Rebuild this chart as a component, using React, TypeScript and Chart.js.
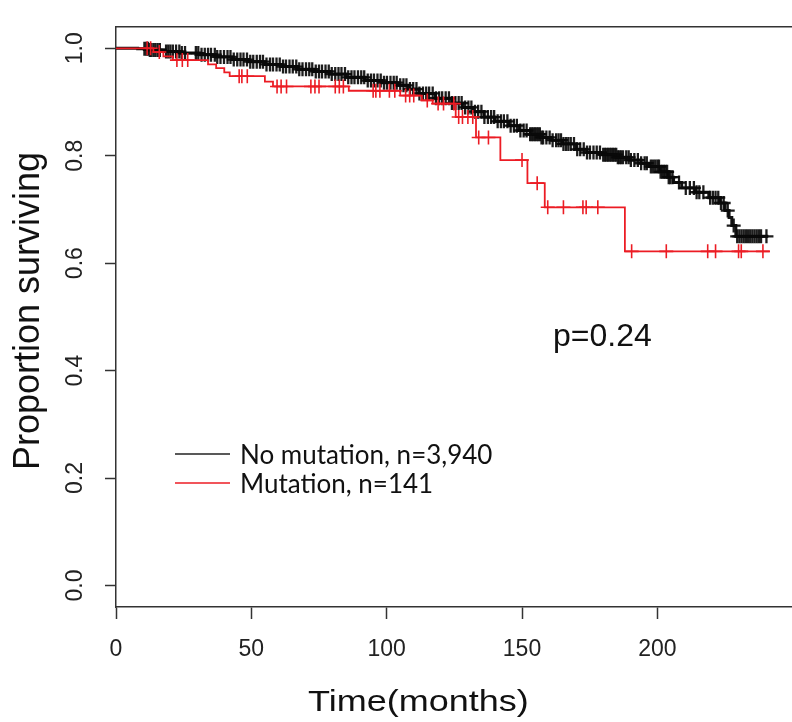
import React, { useEffect, useRef } from "react";
import { Chart, registerables } from "chart.js";

Chart.register(...registerables);

// ---- axis ticks ----
const xTicks = [0, 50, 100, 150, 200];
const yTicks = [0.0, 0.2, 0.4, 0.6, 0.8, 1.0];

// ---- texts ----
const xTitle = "Time(months)";
const yTitle = "Proportion surviving";
const pText = "p=0.24";
const seriesNames = ["No mutation, n=3,940", "Mutation, n=141"];

// ---- No mutation (black) Kaplan-Meier steps ----
const noMutTimes = [0, 8, 12, 18, 24, 31, 37, 43, 49, 55, 61, 67, 73, 79, 85, 92, 98, 104, 108, 112, 118, 124, 128, 132, 136, 140, 145, 149, 153, 157, 161, 165, 170, 174, 179, 185, 190, 194, 197, 201, 204, 206, 209, 214, 219, 223, 225, 226.5, 227.5, 229];
const noMutSurv = [1.0, 0.999, 0.997, 0.994, 0.991, 0.988, 0.984, 0.979, 0.975, 0.970, 0.966, 0.961, 0.957, 0.952, 0.946, 0.940, 0.936, 0.931, 0.924, 0.916, 0.907, 0.898, 0.890, 0.882, 0.872, 0.864, 0.856, 0.847, 0.840, 0.834, 0.829, 0.822, 0.812, 0.806, 0.802, 0.797, 0.792, 0.786, 0.780, 0.770, 0.760, 0.750, 0.740, 0.732, 0.722, 0.712, 0.698, 0.685, 0.670, 0.650];
const noMutEnd = 241;
const noMutCensor = [
  10.5, 11.2, 11.8, 12.5, 13.1, 13.9, 14.6, 15.4, 16.2,
  18.5, 19.3, 20.1, 21, 22.2, 23.4, 24.3, 25.5,
  29.5, 30.4, 31.6, 32.8, 34, 35.1, 36.5, 37.4, 38.6, 39.9, 41.2, 42.3,
  43.5, 44.8, 46, 47.1, 48.4, 49.6, 50.7, 52, 53.2, 54.3, 55.6, 56.9, 58, 59.3, 60.5, 61.7, 62.8, 64.1, 65.3, 66.6, 67.7, 68.9, 70.2, 71.4, 72.5, 73.8, 75, 76.1, 77.4, 78.6, 79.7, 81, 82.2, 83.3, 84.6, 85.8, 87, 88.1, 89.4, 90.6, 91.7, 93, 94.2, 95.3, 96.6, 97.8, 99, 100.1, 101.4, 102.6, 103.7,
  105, 106.2, 107.3, 108.6, 109.8, 111, 112.1, 113.4, 114.6, 115.7, 117, 118.2, 119.4, 120.5, 121.8, 123, 124.1, 125.4, 126.6, 127.7, 129, 130.2, 131.3, 132.6, 133.8, 135, 136.1, 137.4, 138.6, 139.7, 141, 142.2, 143.3, 144.6, 145.8, 147, 148.1, 149.4, 150.6, 151.7,
  153, 153.6, 154.2, 154.8, 155.4, 156, 156.6, 157.2, 157.8, 159, 160.2, 161.3, 162.6, 163.5, 164.4, 165.3, 166.2, 167.1, 168, 169.2, 170.4, 171.5, 172.8, 174, 175.1, 176.4, 177.6, 178.8,
  180, 180.6, 181.2, 181.8, 182.4, 183, 183.6, 184.2, 184.8, 185.4, 186, 186.6, 187.3, 188.5, 189.4, 190.2, 191.5, 192.8, 194, 195.3, 196.1, 197.6, 198.4, 199.2, 200, 200.6, 201.2, 201.8, 202.4, 203, 203.6, 204.2, 204.8, 205.6,
  208, 210.5, 212, 213.5, 214.5, 215.5, 217, 219.5, 220.5, 221.5, 222.5, 223.5, 224.5, 226,
  228.2, 229.5, 230.3, 231.1, 231.9, 232.7, 233.5, 234.3, 235.1, 235.9, 236.7, 237.5, 238.3, 240.3,
];

// ---- Mutation (red) Kaplan-Meier steps ----
const mutTimes = [0, 13.8, 17.5, 21, 34, 37, 40, 42, 55, 58, 86, 105, 113, 117, 125.5, 133, 142, 152, 158.4, 188];
const mutSurv = [1.0, 0.993, 0.985, 0.978, 0.970, 0.963, 0.955, 0.948, 0.938, 0.929, 0.921, 0.912, 0.903, 0.897, 0.872, 0.834, 0.792, 0.749, 0.704, 0.622];
const mutEnd = 241.5;
const mutCensor = [11.5, 12.8, 16, 22.5, 24.5, 26.5, 45.5, 46.5, 48.5, 59.5, 61, 63, 72, 73.5, 75, 81, 82.5, 84, 95, 96, 97.5, 101, 103, 107, 108.5, 110, 115, 119, 121, 124.8, 126.6, 128, 130, 131.8, 134, 137.6, 150, 155.6, 159.5, 165.3, 172.5, 173.7, 178, 190.5, 203.3, 218.6, 221.5, 230, 231, 239];

const BLACK = "#111111";
const RED = "#ec1c24";
const AXIS = "#333333";

function stepPoints(times: number[], surv: number[], end: number) {
  const pts = times.map((t, i) => ({ x: t, y: surv[i] }));
  pts.push({ x: end, y: surv[surv.length - 1] });
  return pts;
}

function survAt(times: number[], surv: number[], t: number) {
  let s = surv[0];
  for (let i = 0; i < times.length; i++) {
    if (times[i] <= t) s = surv[i];
    else break;
  }
  return s;
}

function censorPoints(times: number[], surv: number[], censor: number[]) {
  return censor.map((t) => ({ x: t, y: survAt(times, surv, t) }));
}

const overlayPlugin = {
  id: "overlay",
  afterDraw(chart: any) {
    const { ctx, chartArea: a } = chart;
    ctx.save();
    // top border of the box
    ctx.strokeStyle = AXIS;
    ctx.lineWidth = 1.5;
    ctx.beginPath();
    ctx.moveTo(a.left, a.top);
    ctx.lineTo(a.right + 2, a.top);
    ctx.stroke();

    // x title
    ctx.fillStyle = "#111";
    ctx.textBaseline = "alphabetic";
    ctx.textAlign = "left";
    ctx.font = '30px "Liberation Sans", Arial, sans-serif';
    ctx.save();
    ctx.translate(308, 711);
    ctx.scale(1.2, 1);
    ctx.fillText(xTitle, 0, 0);
    ctx.restore();

    // y title
    ctx.save();
    ctx.translate(39, 311);
    ctx.rotate(-Math.PI / 2);
    ctx.textAlign = "center";
    ctx.font = '36px "Liberation Sans", Arial, sans-serif';
    ctx.fillText(yTitle, 0, 0);
    ctx.restore();

    // legend
    ctx.lineWidth = 1.5;
    ctx.strokeStyle = "#222";
    ctx.beginPath();
    ctx.moveTo(175, 454);
    ctx.lineTo(230, 454);
    ctx.stroke();
    ctx.strokeStyle = RED;
    ctx.beginPath();
    ctx.moveTo(175, 483);
    ctx.lineTo(230, 483);
    ctx.stroke();
    ctx.font = '26px Lato, "Open Sans", sans-serif';
    ctx.fillStyle = "#111";
    ctx.textAlign = "left";
    ctx.fillText(seriesNames[0], 240, 464);
    ctx.fillText(seriesNames[1], 240, 493);

    // p value
    ctx.font = '32px "Liberation Sans", Arial, sans-serif';
    ctx.fillText(pText, 553, 346);
    ctx.restore();
  },
};

export default function App() {
  const canvasRef = useRef<HTMLCanvasElement | null>(null);

  useEffect(() => {
    if (!canvasRef.current) return;
    const tickFont = { family: '"Liberation Sans", Arial, sans-serif', size: 23 };
    const chart = new Chart(canvasRef.current, {
      type: "scatter",
      data: {
        datasets: [
          {
            label: seriesNames[1] + " censor",
            data: censorPoints(mutTimes, mutSurv, mutCensor),
            pointStyle: "cross",
            pointRadius: 7,
            pointBorderWidth: 1.6,
            pointBorderColor: RED,
            pointBackgroundColor: RED,
            showLine: false,
          },
          {
            label: seriesNames[1],
            data: stepPoints(mutTimes, mutSurv, mutEnd),
            showLine: true,
            stepped: "before",
            borderColor: RED,
            borderWidth: 1.8,
            pointRadius: 0,
            fill: false,
          },
          {
            label: seriesNames[0] + " censor",
            data: censorPoints(noMutTimes, noMutSurv, noMutCensor),
            pointStyle: "cross",
            pointRadius: 7,
            pointBorderWidth: 2.3,
            pointBorderColor: "rgba(10,10,10,0.92)",
            pointBackgroundColor: BLACK,
            showLine: false,
          },
          {
            label: seriesNames[0],
            data: stepPoints(noMutTimes, noMutSurv, noMutEnd),
            showLine: true,
            stepped: "before",
            borderColor: BLACK,
            borderWidth: 3,
            pointRadius: 0,
            fill: false,
          },
        ],
      },
      options: {
        animation: false,
        responsive: false,
        devicePixelRatio: 1,
        events: [],
        layout: { padding: { top: 11, right: 1, left: 0, bottom: 0 } },
        plugins: { legend: { display: false }, tooltip: { enabled: false } },
        scales: {
          x: {
            type: "linear",
            min: 0,
            max: 250,
            afterBuildTicks: (s: any) => {
              s.ticks = xTicks.map((v) => ({ value: v }));
            },
            afterFit: (s: any) => {
              s.height = 115;
            },
            grid: { drawOnChartArea: false, tickLength: 12, tickColor: AXIS, tickWidth: 1.5 },
            border: { color: AXIS, width: 1.5 },
            ticks: {
              font: tickFont,
              color: "#222",
              padding: 17,
              maxRotation: 0,
              autoSkip: false,
              callback: (v: any) => String(v),
            },
          },
          y: {
            type: "linear",
            min: -0.04,
            max: 1.04,
            afterBuildTicks: (s: any) => {
              s.ticks = yTicks.map((v) => ({ value: v }));
            },
            afterFit: (s: any) => {
              s.width = 116;
            },
            grid: { drawOnChartArea: false, tickLength: 11, tickColor: AXIS, tickWidth: 1.5 },
            border: { color: AXIS, width: 1.5 },
            ticks: {
              font: tickFont,
              color: "#222",
              padding: 13,
              minRotation: 90,
              maxRotation: 90,
              crossAlign: "center",
              autoSkip: false,
              callback: (v: any) => Number(v).toFixed(1),
            },
          },
        },
      },
      plugins: [overlayPlugin],
    } as any);
    return () => chart.destroy();
  }, []);

  return (
    <div
      style={{
        position: "absolute",
        left: 0,
        top: 0,
        width: 792,
        height: 722,
        overflow: "hidden",
        background: "#fff",
      }}
    >
      <canvas ref={canvasRef} width={802} height={722} style={{ display: "block", width: 802, height: 722 }} />
    </div>
  );
}
